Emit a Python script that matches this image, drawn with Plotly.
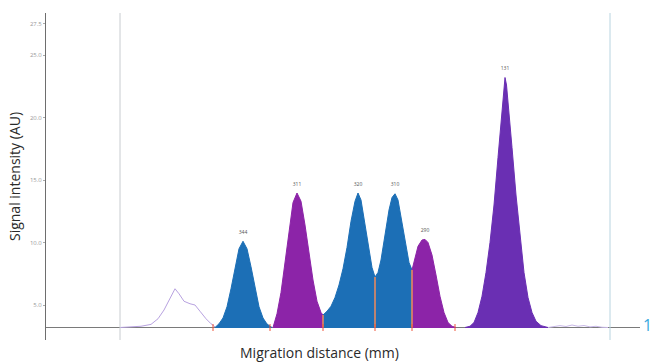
import plotly.graph_objects as go

# ---- data ----
BASE = 3.2  # baseline signal (AU)

faint_x = [7.4, 8.5, 9.5, 10.5, 11.2, 11.8, 12.4, 12.9, 13.3, 13.8, 14.4, 14.9, 15.4, 16.0, 16.5, 16.9]
faint_y = [3.2, 3.25, 3.3, 3.45, 3.9, 4.6, 5.6, 6.3, 5.9, 5.3, 5.1, 5.0, 4.5, 3.9, 3.5, 3.25]

tail_x = [50.2, 50.8, 51.4, 52.0, 52.6, 53.2, 53.8, 54.4, 55.0, 55.6, 56.2]
tail_y = [3.2, 3.3, 3.35, 3.28, 3.4, 3.3, 3.36, 3.25, 3.3, 3.22, 3.2]

blue1_x = [16.9, 17.3, 17.7, 18.1, 18.5, 18.9, 19.3, 19.7, 20.1, 20.5, 20.9, 21.3, 21.7, 22.1, 22.6]
blue1_y = [3.2, 3.5, 3.96, 4.86, 6.3, 8.06, 9.5, 10.1, 9.5, 8.06, 6.3, 4.86, 3.96, 3.48, 3.2]

purple1_x = [22.7, 23.1, 23.5, 23.9, 24.3, 24.7, 25.1, 25.5, 25.9, 26.3, 26.7, 27.1, 27.5, 27.7]
purple1_y = [3.2, 4.3, 6.0, 8.4, 11.0, 13.2, 13.96, 13.3, 11.4, 9.1, 7.0, 5.3, 4.4, 4.2]

blue23_x = [27.7, 28.1, 28.5, 28.9, 29.3, 29.7, 30.1, 30.5, 30.9, 31.2, 31.5, 31.9, 32.3, 32.6, 32.9,
            33.2, 33.5, 33.9, 34.3, 34.6, 34.9, 35.2, 35.6, 36.0, 36.3, 36.6]
blue23_y = [4.2, 4.5, 4.9, 5.6, 6.6, 7.9, 9.6, 11.7, 13.3, 13.96, 13.4, 11.5, 9.3, 8.0, 7.24,
            7.6, 8.6, 10.6, 12.6, 13.6, 13.9, 13.4, 11.6, 9.6, 8.4, 7.8]

purple2_x = [36.6, 36.9, 37.2, 37.6, 37.9, 38.2, 38.6, 39.0, 39.4, 39.8, 40.2, 40.6, 41.0]
purple2_y = [7.8, 8.8, 9.7, 10.2, 10.25, 10.0, 9.0, 7.4, 5.7, 4.4, 3.6, 3.3, 3.2]

violet_x = [41.9, 42.4, 42.8, 43.2, 43.6, 44.0, 44.4, 44.8, 45.2, 45.5, 45.75, 45.9, 46.05, 46.3,
            46.6, 47.0, 47.4, 47.8, 48.2, 48.6, 49.0, 49.5, 50.2]
violet_y = [3.2, 3.3, 3.6, 4.4, 5.7, 7.6, 10.0, 13.0, 16.8, 19.8, 22.4, 23.2, 22.6, 20.6,
            17.6, 13.8, 10.4, 7.6, 5.6, 4.4, 3.7, 3.35, 3.2]

divider_x = [27.7, 32.9, 36.6]
divider_y = [4.2, 7.24, 7.8]
boundary_x = [16.7, 22.4, 27.7, 32.9, 36.6, 40.9]

peak_x = [19.7, 25.1, 31.2, 34.9, 37.9, 45.9]
peak_y = [10.1, 13.96, 13.96, 13.9, 10.25, 23.2]
peak_labels = ["344", "311", "320", "310", "290", "131"]

ytick_vals = [5, 10, 15, 20, 25, 27.5]
ytick_text = ["5.0", "10.0", "15.0", "20.0", "25.0", "27.5"]

BLUE = "#1c6fb6"
PURPLE = "#8c24a8"
VIOLET = "#6a2fb3"
ORANGE = "#f08a5a"

fig = go.Figure()

# baseline
fig.add_trace(go.Scatter(x=[0, 59.4], y=[BASE, BASE], mode="lines",
                         line=dict(color="#7a7a7a", width=1), hoverinfo="skip"))

def filled(xs, ys, color):
    fig.add_trace(go.Scatter(x=xs + [xs[-1], xs[0]], y=ys + [BASE, BASE],
                             mode="lines", fill="toself", fillcolor=color,
                             line=dict(color=color, width=1), hoverinfo="skip"))

filled(blue1_x, blue1_y, BLUE)
filled(purple1_x, purple1_y, PURPLE)
filled(blue23_x, blue23_y, BLUE)
filled(purple2_x, purple2_y, PURPLE)
filled(violet_x, violet_y, VIOLET)

fig.add_trace(go.Scatter(x=faint_x, y=faint_y, mode="lines",
                         line=dict(color="#b8a2e0", width=1), hoverinfo="skip"))
fig.add_trace(go.Scatter(x=tail_x, y=tail_y, mode="lines",
                         line=dict(color="#c8b8e8", width=1), hoverinfo="skip"))

for bx, by in zip(divider_x, divider_y):
    fig.add_trace(go.Scatter(x=[bx, bx], y=[BASE, by], mode="lines",
                             line=dict(color=ORANGE, width=1.5), hoverinfo="skip"))

fig.add_trace(go.Scatter(x=boundary_x, y=[BASE] * len(boundary_x), mode="markers",
                         marker=dict(symbol="line-ns-open", size=5,
                                     line=dict(color=ORANGE, width=1)),
                         hoverinfo="skip"))

fig.add_trace(go.Scatter(x=peak_x, y=[v + 0.7 for v in peak_y], mode="text",
                         text=peak_labels, textfont=dict(size=5, color="#555"),
                         hoverinfo="skip"))

# light vertical reference lines
fig.add_shape(type="line", xref="x", yref="paper", x0=7.4, x1=7.4, y0=0, y1=1,
              line=dict(color="#c8ccd0", width=1))
fig.add_shape(type="line", xref="x", yref="paper", x0=56.4, x1=56.4, y0=0, y1=1,
              line=dict(color="#b8d4e0", width=1))

fig.add_annotation(text="Migration distance (mm)", xref="paper", yref="paper",
                   x=0.461, y=-0.037, yanchor="middle", showarrow=False,
                   font=dict(size=14, color="#2a2a2a", family="Open Sans"))
fig.add_annotation(text="1", xref="paper", yref="paper", x=1.012, y=0.046,
                   xanchor="center", yanchor="middle", showarrow=False,
                   font=dict(size=16, color="#3aa8de", family="Open Sans"))

fig.update_layout(
    width=653, height=363,
    margin=dict(l=46, r=13, t=13, b=23, autoexpand=False),
    paper_bgcolor="white", plot_bgcolor="white",
    showlegend=False,
    xaxis=dict(range=[0, 59.4], visible=False),
    yaxis=dict(range=[2.2, 28.36], showgrid=False, zeroline=False,
               showline=True, linecolor="#6e6e6e", linewidth=1,
               ticks="outside", ticklen=2, tickcolor="#aaa",
               tickmode="array", tickvals=ytick_vals, ticktext=ytick_text,
               tickfont=dict(size=6, color="#999"),
               title=dict(text="Signal intensity (AU)", standoff=6,
                          font=dict(size=14, color="#2a2a2a", family="Open Sans"))),
)

fig.write_html("out.html")
